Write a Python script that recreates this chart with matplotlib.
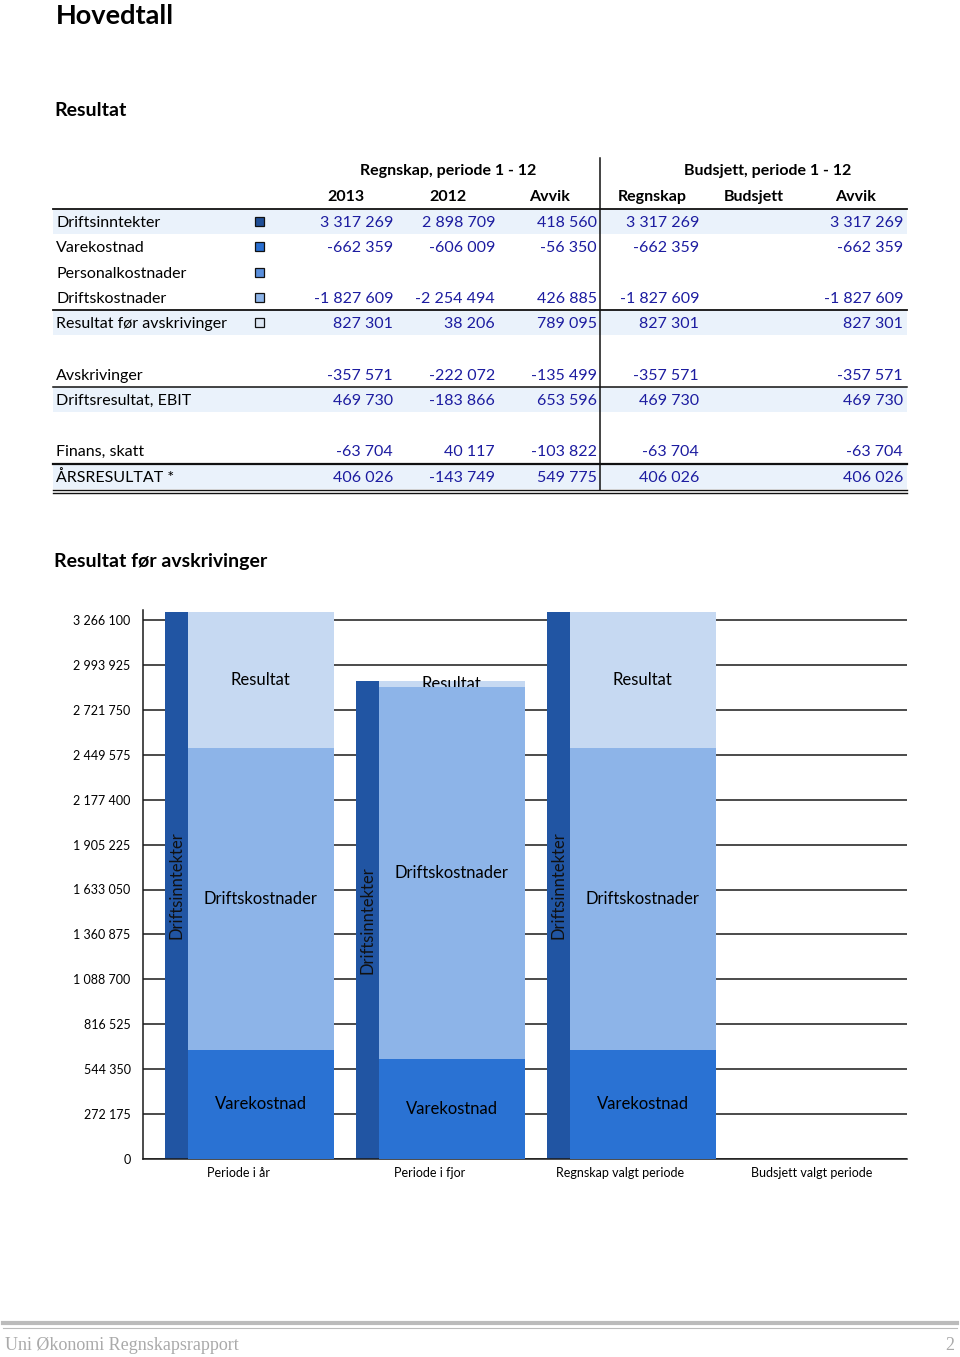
import matplotlib
matplotlib.use("Agg")
import matplotlib.pyplot as plt
from matplotlib.ticker import FixedLocator, FuncFormatter

plt.rcParams['font.family'] = ['Lato', 'DejaVu Sans']

# ---------------- data ----------------
row_labels = ["Driftsinntekter", "Varekostnad", "Personalkostnader", "Driftskostnader",
              "Resultat før avskrivinger", "Avskrivinger", "Driftsresultat, EBIT",
              "Finans, skatt", "ÅRSRESULTAT *"]
col_2013 = [3317269, -662359, None, -1827609, 827301, -357571, 469730, -63704, 406026]
col_2012 = [2898709, -606009, None, -2254494, 38206, -222072, -183866, 40117, -143749]
col_avvik = [418560, -56350, None, 426885, 789095, -135499, 653596, -103822, 549775]
col_regnskap = [3317269, -662359, None, -1827609, 827301, -357571, 469730, -63704, 406026]
col_budsjett = [None, None, None, None, None, None, None, None, None]
col_avvik_b = [3317269, -662359, None, -1827609, 827301, -357571, 469730, -63704, 406026]
col_headers = ["2013", "2012", "Avvik", "Regnskap", "Budsjett", "Avvik"]
group_headers = ["Regnskap, periode 1 - 12", "Budsjett, periode 1 - 12"]

categories = ["Periode i år", "Periode i fjor", "Regnskap valgt periode", "Budsjett valgt periode"]
driftsinntekter = [3317269, 2898709, 3317269, 0]
varekostnad = [662359, 606009, 662359, 0]
driftskostnader = [1827609, 2254494, 1827609, 0]
resultat = [827301, 38206, 827301, 0]
y_ticks = [0, 272175, 544350, 816525, 1088700, 1360875, 1633050, 1905225,
           2177400, 2449575, 2721750, 2993925, 3266100]

# ---------------- styles ----------------
C_INNT = "#2155A3"
C_VARE = "#2A72D3"
C_DRIFT = "#8DB4E8"
C_RES = "#C6D9F2"
SQ_COLORS = ["#1F4E96", "#2A6FD0", "#5A8FDC", "#8DB4E8", "#DCE6F2"]
NUM_COLOR = "#1C1CA0"
BAND = "#EAF2FB"
DY = 2  # text baseline correction in pixels


def fmt(v):
    if v is None:
        return ""
    s = f"{abs(v):,}".replace(",", " ")
    return ("-" if v < 0 else "") + s


fig = plt.figure(figsize=(9.6, 13.57), dpi=100)
bg = fig.add_axes([0, 0, 1, 1])
bg.set_xlim(0, 960)
bg.set_ylim(1357, 0)
bg.axis("off")

# titles
bg.text(56, 14 + DY, "Hovedtall", fontsize=19.5, fontweight="bold", va="center", ha="left")
bg.text(54, 108 + DY, "Resultat", fontsize=14, fontweight="bold", va="center", ha="left")
bg.text(54, 560 + DY, "Resultat før avskrivinger", fontsize=14, fontweight="bold",
        va="center", ha="left")

# table
row_y = [221, 246, 272, 297, 322, 374, 399, 450, 476]
shaded = [0, 4, 6, 8]
for i in shaded:
    y = row_y[i]
    bg.add_patch(plt.Rectangle((53, y - 12.5), 854, 25, color=BAND, lw=0, zorder=0))

bg.text(448, 169 + DY, group_headers[0], fontsize=11.5, fontweight="bold", ha="center", va="center")
bg.text(768, 169 + DY, group_headers[1], fontsize=11.5, fontweight="bold", ha="center", va="center")
head_x = [346, 448, 550, 652, 754, 856]
for x, h in zip(head_x, col_headers):
    bg.text(x, 195 + DY, h, fontsize=11.5, fontweight="bold", ha="center", va="center")

cols = [col_2013, col_2012, col_avvik, col_regnskap, col_budsjett, col_avvik_b]
col_right = [393, 495, 597, 699, 801, 903]
for i, lab in enumerate(row_labels):
    y = row_y[i]
    bg.text(56, y + DY, lab, fontsize=11.5, ha="left", va="center")
    for c, xr in zip(cols, col_right):
        bg.text(xr, y + DY, fmt(c[i]), fontsize=11.5, ha="right", va="center", color=NUM_COLOR)
    if i < 5:
        bg.add_patch(plt.Rectangle((255, y - 4.5), 9, 9, facecolor=SQ_COLORS[i],
                                   edgecolor="#111111", lw=0.9, zorder=3))

# table lines
bg.plot([53, 907], [208.5, 208.5], color="#111111", lw=1.3)
bg.plot([53, 907], [310, 310], color="#111111", lw=1.3)
bg.plot([53, 907], [387, 387], color="#111111", lw=1.1)
bg.plot([53, 907], [463.5, 463.5], color="#111111", lw=1.6)
bg.plot([53, 907], [489.5, 489.5], color="#111111", lw=1.0)
bg.plot([53, 907], [492.5, 492.5], color="#111111", lw=1.0)
bg.plot([600, 600], [158, 490], color="#111111", lw=1.1)

# footer
bg.plot([3, 957], [1323, 1323], color="#BBBBBB", lw=3.0)
bg.plot([3, 957], [1327.5, 1327.5], color="#BBBBBB", lw=0.8)
bg.text(5, 1344 + DY, "Uni Økonomi Regnskapsrapport", family="Liberation Serif", fontsize=13,
        color="#AAAAAA", ha="left", va="center")
bg.text(954, 1344 + DY, "2", family="Liberation Serif", fontsize=13, color="#AAAAAA",
        ha="right", va="center")

# ---------------- chart ----------------
px_left, px_right, px_bottom, px_top = 143, 907, 1159, 610
ax = fig.add_axes([px_left / 960, (1357 - px_bottom) / 1357,
                   (px_right - px_left) / 960, (px_bottom - px_top) / 1357])
ymax = y_ticks[-1] * (px_bottom - px_top) / (px_bottom - 620)
ax.set_ylim(0, ymax)
ax.set_xlim(-0.5, len(categories) - 0.5)

ax.yaxis.set_major_locator(FixedLocator(y_ticks))
ax.yaxis.set_major_formatter(FuncFormatter(lambda v, p: fmt(int(round(v)))))
ax.set_xticks([])
ax.tick_params(axis="y", length=0, pad=9, labelsize=9)
ax.grid(axis="y", color="#1a1a1a", lw=1.1, zorder=0)
ax.set_axisbelow(True)
for s in ["top", "right"]:
    ax.spines[s].set_visible(False)
ax.spines["left"].set_color("#1a1a1a")
ax.spines["bottom"].set_color("#1a1a1a")
ax.spines["left"].set_linewidth(1.1)
ax.spines["bottom"].set_linewidth(1.1)
ax.spines["left"].set_zorder(5)

xs = list(range(len(categories)))
dark_off, dark_w = -0.385, 0.118
wide_off, wide_w = -0.267, 0.767
ax.bar([x + dark_off for x in xs], driftsinntekter, width=dark_w, align="edge",
       color=C_INNT, zorder=2)
ax.bar([x + wide_off for x in xs], varekostnad, width=wide_w, align="edge",
       color=C_VARE, zorder=3)
bottoms2 = varekostnad
ax.bar([x + wide_off for x in xs], driftskostnader, bottom=bottoms2, width=wide_w,
       align="edge", color=C_DRIFT, zorder=3)
bottoms3 = [a + b for a, b in zip(varekostnad, driftskostnader)]
ax.bar([x + wide_off for x in xs], resultat, bottom=bottoms3, width=wide_w,
       align="edge", color=C_RES, zorder=2)

for i, x in enumerate(xs):
    cx = x + wide_off + wide_w / 2
    if varekostnad[i] > 0:
        ax.text(cx, varekostnad[i] / 2, "Varekostnad", ha="center", va="center",
                fontsize=12, zorder=6)
    if driftskostnader[i] > 0:
        ax.text(cx, bottoms2[i] + driftskostnader[i] / 2, "Driftskostnader",
                ha="center", va="center", fontsize=12, zorder=6)
    if resultat[i] > 0:
        ax.text(cx, bottoms3[i] + resultat[i] / 2, "Resultat", ha="center",
                va="center", fontsize=12, zorder=2.5)
    if driftsinntekter[i] > 0:
        ax.text(x + dark_off + dark_w / 2, driftsinntekter[i] / 2, "Driftsinntekter",
                ha="center", va="center", rotation=90, fontsize=12, color="#111111",
                zorder=6)
    ax.text(x, -14 * ymax / (px_bottom - px_top), categories[i], ha="center",
            va="center", fontsize=9, clip_on=False)

fig.savefig("out.png", dpi=100)
